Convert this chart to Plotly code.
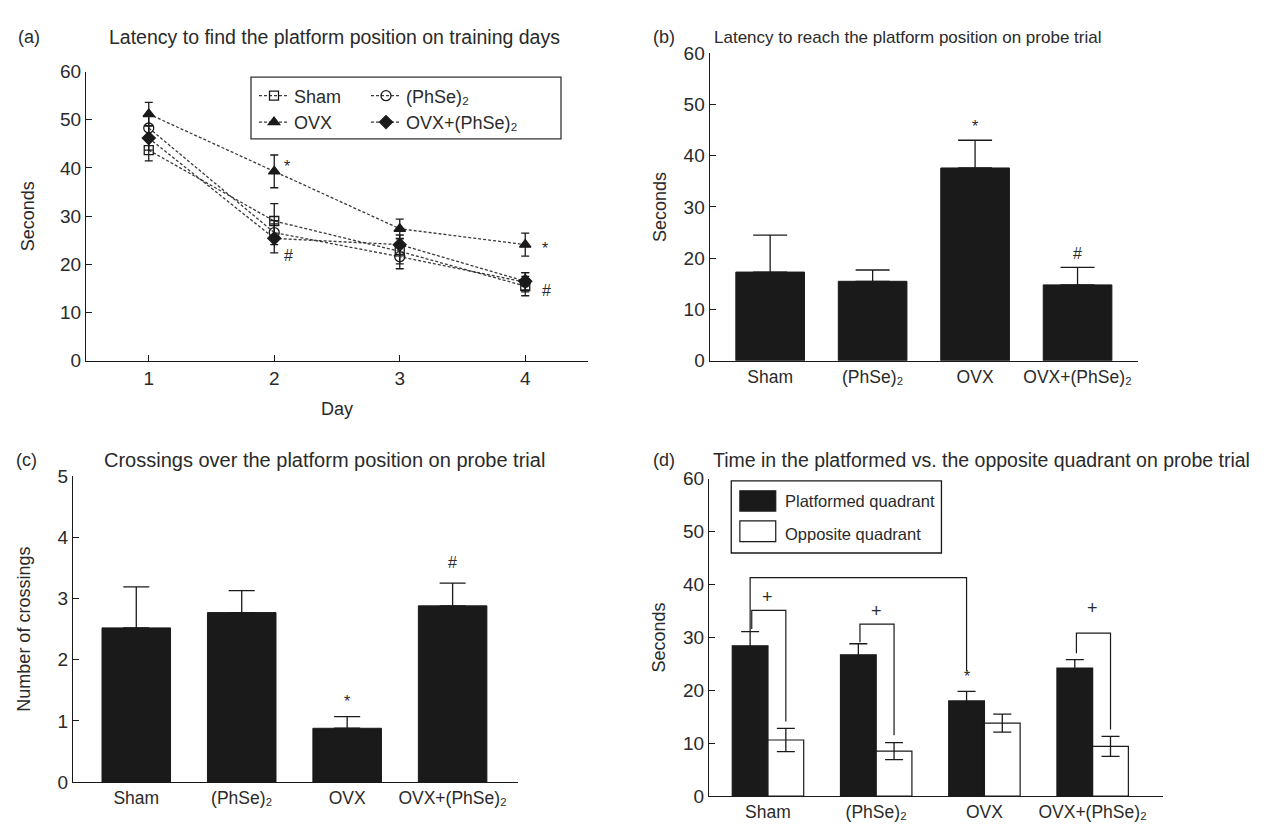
import plotly.graph_objects as go

W, H = 1267, 829

# ---------------- data ----------------
days = [1, 2, 3, 4]
sham_mean = [43.7, 29.0, 22.7, 15.5]
sham_err = [2.2, 3.6, 2.6, 2.0]
phse_mean = [48.3, 26.6, 21.6, 16.3]
phse_err = [2.5, 2.5, 2.5, 2.0]
ovx_mean = [51.2, 39.3, 27.4, 24.1]
ovx_err = [2.4, 3.4, 2.0, 2.4]
combo_mean = [46.2, 25.4, 24.1, 16.5]
combo_err = [2.5, 3.0, 2.0, 1.8]

groups = ["Sham", "(PhSe)₂", "OVX", "OVX+(PhSe)₂"]

probe_latency = [17.3, 15.5, 37.6, 14.8]
probe_latency_err = [7.2, 2.2, 5.4, 3.4]

crossings = [2.52, 2.77, 0.88, 2.88]
crossings_err = [0.67, 0.36, 0.19, 0.37]

platformed = [28.4, 26.7, 18.0, 24.2]
platformed_err = [2.7, 2.1, 1.8, 1.6]
opposite = [10.6, 8.5, 13.8, 9.4]
opposite_err = [2.2, 1.6, 1.7, 1.9]

# significance brackets in (d): left start, top, right end (seconds)
br_left = [31.6, 29.1, None, 27.0]
br_top = [35.1, 32.5, None, 30.8]
br_right = [14.1, 11.5, None, 12.6]
plus_y = [37.6, 35.0, None, 35.5]
big_br = [31.1, 41.3, 23.6]

FONT = "Liberation Sans, Arial, Helvetica, sans-serif"
TXT = "#2a2a2a"
LINE = "#1a1a1a"


def px_x(p):
    return p / W


def px_y(p):
    return 1 - p / H


fig = go.Figure()

# ---------------- panel (a) ----------------
series_a = [
    ("Sham", sham_mean, sham_err, "square-open", 9, "legend"),
    ("OVX", ovx_mean, ovx_err, "triangle-up", 10, "legend"),
    ("(PhSe)₂", phse_mean, phse_err, "circle-open", 10, "legend2"),
    ("OVX+(PhSe)₂", combo_mean, combo_err, "diamond", 10, "legend2"),
]
for name, m, e, sym, sz, lg in series_a:
    fig.add_trace(go.Scatter(
        x=days, y=m, name=name, mode="lines+markers",
        line=dict(color="#3a3a3a", width=1.3, dash="3px,2px"),
        marker=dict(symbol=sym, size=sz, color=LINE,
                    line=dict(color=LINE, width=1.3)),
        error_y=dict(type="data", array=e, color=LINE, thickness=1.3, width=4),
        xaxis="x", yaxis="y", legend=lg,
    ))

# ---------------- panel (b) ----------------
idx = list(range(len(groups)))
fig.add_trace(go.Bar(
    x=idx, y=probe_latency, width=0.67, marker=dict(color=LINE, line=dict(color=LINE, width=1)),
    error_y=dict(type="data", array=probe_latency_err, arrayminus=[0] * 4,
                 symmetric=False, color=LINE, thickness=1.3, width=17),
    xaxis="x2", yaxis="y2", showlegend=False,
))

# ---------------- panel (c) ----------------
fig.add_trace(go.Bar(
    x=idx, y=crossings, width=0.65, marker=dict(color=LINE, line=dict(color=LINE, width=1)),
    error_y=dict(type="data", array=crossings_err, arrayminus=[0] * 4,
                 symmetric=False, color=LINE, thickness=1.3, width=13),
    xaxis="x3", yaxis="y3", showlegend=False,
))

# ---------------- panel (d) ----------------
off = 0.165
fig.add_trace(go.Bar(
    x=[i - off for i in idx], y=platformed, width=0.33, name="Platformed quadrant",
    marker=dict(color=LINE, line=dict(color=LINE, width=1.2)),
    error_y=dict(type="data", array=platformed_err, color=LINE, thickness=1.3, width=9),
    xaxis="x4", yaxis="y4", showlegend=False,
))
fig.add_trace(go.Bar(
    x=[i + off for i in idx], y=opposite, width=0.33, name="Opposite quadrant",
    marker=dict(color="white", line=dict(color=LINE, width=1.2)),
    error_y=dict(type="data", array=opposite_err, color=LINE, thickness=1.3, width=9),
    xaxis="x4", yaxis="y4", showlegend=False,
))

# ---------------- axes ----------------
common = dict(showline=True, linecolor=LINE, linewidth=1.3, showgrid=False,
              zeroline=False, ticks="inside", ticklen=6, tickwidth=1.3,
              tickcolor=LINE, tickfont=dict(family=FONT, size=19, color=TXT))
cat_font = dict(family=FONT, size=17.5, color=TXT)

dom_a_x = [px_x(78), px_x(580)]
dom_a_y = [px_y(351.7), px_y(55)]
dom_b_x = [px_x(701.7), px_x(1130)]
dom_b_y = [px_y(351.7), px_y(36)]
dom_c_x = [px_x(65), px_x(510)]
dom_c_y = [px_y(784), px_y(470)]
dom_d_x = [px_x(701), px_x(1155)]
dom_d_y = [px_y(798.3), px_y(472.7)]

ytitle_font = dict(family=FONT, size=18, color=TXT)

fig.update_layout(
    xaxis=dict(**common, domain=dom_a_x, range=[0.5, 4.5], tickvals=days,
               anchor="y", title=dict(text="Day", font=ytitle_font, standoff=14)),
    yaxis=dict(**common, domain=dom_a_y, range=[0, 60], dtick=10, anchor="x",
               title=dict(text="Seconds", font=ytitle_font, standoff=20)),
    xaxis2=dict(**{**common, "ticks": "", "tickfont": cat_font}, domain=dom_b_x,
                range=[-0.59, 3.59], tickvals=idx, ticktext=groups, anchor="y2"),
    yaxis2=dict(**common, domain=dom_b_y, range=[0, 60], dtick=10, anchor="x2",
                title=dict(text="Seconds", font=ytitle_font, standoff=12)),
    xaxis3=dict(**{**common, "ticks": "", "tickfont": cat_font}, domain=dom_c_x,
                range=[-0.6, 3.62], tickvals=idx, ticktext=groups, anchor="y3"),
    yaxis3=dict(**common, domain=dom_c_y, range=[0, 5], dtick=1, anchor="x3",
                title=dict(text="Number of crossings", font=ytitle_font, standoff=22)),
    xaxis4=dict(**{**common, "ticks": "", "tickfont": cat_font}, domain=dom_d_x,
                range=[-0.545, 3.65], tickvals=idx, ticktext=groups, anchor="y4"),
    yaxis4=dict(**common, domain=dom_d_y, range=[0, 60], dtick=10, anchor="x4",
                title=dict(text="Seconds", font=ytitle_font, standoff=12)),
)

# ---------------- legends for (a) ----------------
leg_common = dict(bgcolor="rgba(0,0,0,0)", borderwidth=0, yanchor="top", xanchor="left",
                  font=dict(family=FONT, size=18, color=TXT), tracegroupgap=0,
                  itemwidth=30)
fig.update_layout(
    legend=dict(**leg_common, x=px_x(246), y=px_y(61)),
    legend2=dict(**leg_common, x=px_x(358), y=px_y(61)),
)

shapes = [dict(type="rect", xref="paper", yref="paper", x0=px_x(243), x1=px_x(553),
               y0=px_y(124), y1=px_y(60.7), line=dict(color="#333", width=1.3))]

# ---------------- brackets (d) ----------------
for i in idx:
    if br_top[i] is None:
        continue
    xl, xr = i - 0.15, i + 0.165
    shapes.append(dict(type="path", xref="x4", yref="y4",
                       path=f"M {xl},{br_left[i]} L {xl},{br_top[i]} L {xr},{br_top[i]} L {xr},{br_right[i]}",
                       line=dict(color=LINE, width=1.2)))
xl, xr = 0 - off, 2 - off
shapes.append(dict(type="path", xref="x4", yref="y4",
                   path=f"M {xl},{big_br[0]} L {xl},{big_br[1]} L {xr},{big_br[1]} L {xr},{big_br[2]}",
                   line=dict(color=LINE, width=1.2)))

# ---------------- legend (d) ----------------
shapes += [
    dict(type="rect", xref="x4 domain", yref="y4 domain", x0=0.049, x1=0.512,
         y0=0.766, y1=0.993, line=dict(color=LINE, width=1.3)),
    dict(type="rect", xref="x4 domain", yref="y4 domain", x0=0.068, x1=0.147,
         y0=0.898, y1=0.962, fillcolor=LINE, line=dict(color=LINE, width=1.2)),
    dict(type="rect", xref="x4 domain", yref="y4 domain", x0=0.068, x1=0.147,
         y0=0.802, y1=0.867, fillcolor="white", line=dict(color=LINE, width=1.2)),
]

ann = []


def text(x, y, s, size=18, xref="paper", yref="paper", xanchor="left", color=TXT):
    ann.append(dict(x=x, y=y, xref=xref, yref=yref, text=s, showarrow=False,
                    xanchor=xanchor, yanchor="middle",
                    font=dict(family=FONT, size=size, color=color)))


# panel letters and titles
text(px_x(8), px_y(20), "(a)")
text(px_x(99), px_y(20), "Latency to find the platform position on training days", 19.5)
text(px_x(643), px_y(20), "(b)")
text(px_x(704), px_y(20), "Latency to reach the platform position on probe trial", 17)
text(px_x(6), px_y(453), "(c)")
text(px_x(94), px_y(453), "Crossings over the platform position on probe trial", 20)
text(px_x(643), px_y(453), "(d)")
text(px_x(703), px_y(453), "Time in the platformed vs. the opposite quadrant on probe trial", 19.5)

# significance marks (a)
text(2.06, 40.3, "*", 16, "x", "y")
text(2.06, 21.8, "#", 16, "x", "y")
text(4.12, 23.3, "*", 16, "x", "y")
text(4.12, 14.6, "#", 16, "x", "y")
# (b)
text(2, 45.6, "*", 16, "x2", "y2", "center")
text(3, 20.9, "#", 16, "x2", "y2", "center")
# (c)
text(2, 1.31, "*", 16, "x3", "y3", "center")
text(3, 3.59, "#", 16, "x3", "y3", "center")
# (d)
for i in idx:
    if plus_y[i] is not None:
        text(i, plus_y[i], "+", 18, "x4", "y4", "center")
text(2 - off, 22.6, "*", 16, "x4", "y4", "center")
# legend (d) labels
text(0.163, 0.931, "Platformed quadrant", 16.5, "x4 domain", "y4 domain")
text(0.163, 0.826, "Opposite quadrant", 16.5, "x4 domain", "y4 domain")

fig.update_layout(
    width=W, height=H, margin=dict(l=0, r=0, t=0, b=0),
    paper_bgcolor="white", plot_bgcolor="white",
    shapes=shapes, annotations=ann, barmode="overlay",
    font=dict(family=FONT, color=TXT),
)

fig.write_html("out.html")
